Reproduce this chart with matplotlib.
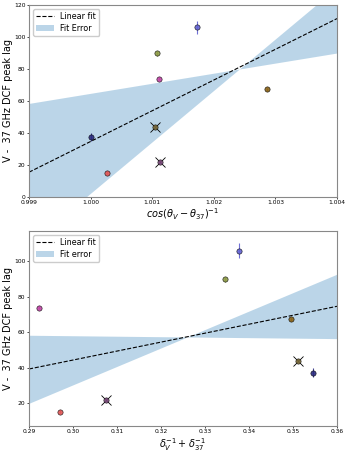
import numpy as np
import matplotlib.pyplot as plt

# top panel: cos(theta_V - theta_37)^-1 vs lag
cos_x = [1.0000, 1.00027, 1.00105, 1.00113, 1.00107, 1.00111, 1.00172, 1.00287]
# bottom panel: 1/delta_V + 1/delta_37 vs lag
dop_x = [0.35462, 0.29714, 0.35112, 0.30746, 0.33457, 0.29228, 0.33768, 0.34961]
lag = [37.3, 15.3, 44.0, 22.0, 89.7, 73.9, 106.0, 67.2]
lag_err = [2.5, 1.0, 1.0, 1.0, 1.5, 1.0, 4.0, 1.0]
colors = ['#2b2b80', '#e05555', '#7a6a3a', '#7a4a7a', '#8c9a45', '#c045a5', '#6262d2', '#8b6418']
crossed = [False, False, True, True, False, False, False, False]

# fit line and error envelope (two bounding lines), as (y at left edge, y at right edge)
top_xlim = (0.999, 1.004)
top_fit = (15.5, 111.5)
top_bounds = [(58.5, 90.0), (-29.8, 131.0)]
bot_xlim = (0.29, 0.36)
bot_fit = (39.3, 74.6)
bot_bounds = [(58.3, 56.4), (20.0, 92.7)]

fig, (ax1, ax2) = plt.subplots(2, 1, figsize=(3.49, 4.53), dpi=100)


def panel(ax, xs, xlim, fit, bounds, band_label):
    xx = np.linspace(xlim[0], xlim[1], 200)
    def line(p):
        return p[0] + (p[1] - p[0]) * (xx - xlim[0]) / (xlim[1] - xlim[0])
    ax.plot(xx, line(fit), 'k--', lw=0.8, label='Linear fit')
    b1, b2 = line(bounds[0]), line(bounds[1])
    ax.fill_between(xx, np.minimum(b1, b2), np.maximum(b1, b2),
                    color='#1f77b4', alpha=0.3, lw=0, label=band_label)
    for x, y, e, c, cr in zip(xs, lag, lag_err, colors, crossed):
        ax.errorbar(x, y, yerr=e, fmt='o', ms=3.8, color=c, mec='k', mew=0.4,
                    ecolor=c, elinewidth=0.8, alpha=0.9)
        if cr:
            ax.plot(x, y, 'x', color='k', ms=7.5, mew=0.6)
    ax.set_xlim(xlim)
    ax.set_ylabel('V -  37 GHz DCF peak lag', fontsize=7, labelpad=1)
    ax.tick_params(labelsize=4.3, length=1.5, width=0.5, pad=1)
    for s in ax.spines.values():
        s.set_color('#888888')
        s.set_linewidth(0.8)
    ax.legend(loc='upper left', fontsize=5.8, handlelength=2.2,
              borderpad=0.4, labelspacing=0.3, framealpha=1)


panel(ax1, cos_x, top_xlim, top_fit, top_bounds, 'Fit Error')
ax1.set_ylim(0, 120)
ax1.set_xticks([0.999, 1.000, 1.001, 1.002, 1.003, 1.004])
ax1.set_xticklabels(['0.999', '1.000', '1.001', '1.002', '1.003', '1.004'])
ax1.set_xlabel(r'$cos(\theta_V - \theta_{37})^{-1}$', fontsize=7, labelpad=1)

panel(ax2, dop_x, bot_xlim, bot_fit, bot_bounds, 'Fit error')
ax2.set_ylim(7.2, 117)
ax2.set_yticks([20, 40, 60, 80, 100])
ax2.set_xticks([0.29, 0.30, 0.31, 0.32, 0.33, 0.34, 0.35, 0.36])
ax2.set_xlabel(r'$\delta_V^{-1} + \delta_{37}^{-1}$', fontsize=7, labelpad=1)

# place axes in pixel boxes of the 349x453 figure
x0, w = 29 / 349, (337 - 29) / 349
ax1.set_position([x0, 1 - 197 / 453, w, (197 - 5) / 453])
ax2.set_position([x0, 1 - 426 / 453, w, (426 - 231) / 453])

fig.savefig('out.png', dpi=100)
